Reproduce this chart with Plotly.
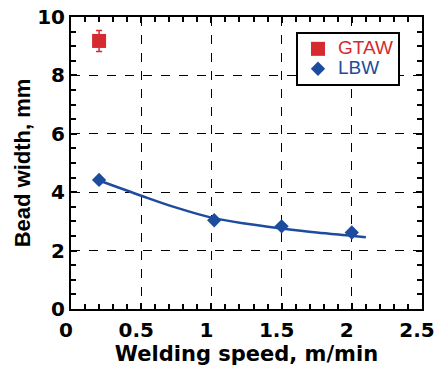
import plotly.graph_objects as go

# Data
gtaw_speed = [0.2]
gtaw_width = [9.18]
gtaw_err = [0.36]

lbw_speed = [0.2, 1.02, 1.5, 2.0]
lbw_width = [4.42, 3.04, 2.83, 2.62]

fit_speed = [0.2, 0.5, 0.75, 1.0, 1.25, 1.5, 1.75, 2.0, 2.1]
fit_width = [4.40, 3.88, 3.47, 3.13, 2.92, 2.76, 2.62, 2.51, 2.46]

x_ticks = [0, 0.5, 1, 1.5, 2, 2.5]
x_ticklabels = ["0", "0.5", "1", "1.5", "2", "2.5"]
y_ticks = [0, 2, 4, 6, 8, 10]

RED = "#d42a30"
BLUE = "#1d4c9e"
FONT = "DejaVu Sans, sans-serif"
LFONT = "Liberation Sans, Arial, sans-serif"

fig = go.Figure()
fig.add_trace(go.Scatter(
    x=fit_speed, y=fit_width, mode="lines", line=dict(color=BLUE, width=2.5, shape="spline"),
    showlegend=False, hoverinfo="skip"))
fig.add_trace(go.Scatter(
    x=gtaw_speed, y=gtaw_width, mode="markers",
    name='<span style="font-size:19px;fill:#d42a30">GTAW</span>',
    marker=dict(symbol="square", size=14, color=RED),
    error_y=dict(type="data", array=gtaw_err, color=RED, thickness=1.5, width=3)))
fig.add_trace(go.Scatter(
    x=lbw_speed, y=lbw_width, mode="markers",
    name='<span style="font-size:19px;fill:#1d4c9e">LBW</span>',
    marker=dict(symbol="diamond", size=11, color=BLUE)))

axis_common = dict(
    showline=True, linecolor="black", linewidth=2, mirror="ticks",
    ticks="inside", ticklen=6, tickwidth=1.5, tickcolor="black",
    showgrid=True, gridcolor="black", gridwidth=1, griddash="dash",
    zeroline=False, automargin=False,
    tickfont=dict(family=FONT, size=20, color="black", weight="bold"),
)

fig.update_xaxes(
    range=[0, 2.5], tickvals=x_ticks, ticktext=x_ticklabels,
    ticklabelshift=-5, ticklabelstandoff=2, ticklabeloverflow="allow",
    minor=dict(dtick=0.1, ticks="inside", ticklen=5, tickcolor="black", tickwidth=1.5, showgrid=False),
    title=dict(text="Welding speed, m/min", font=dict(family=FONT, size=21, color="black", weight="bold"), standoff=0),
    **axis_common)
fig.update_yaxes(
    range=[0, 10], tickvals=y_ticks,
    minor=dict(dtick=0.5, ticks="inside", ticklen=5, tickcolor="black", tickwidth=1.5, showgrid=False),
    title=dict(text="Bead width, mm", font=dict(family=LFONT, size=22, color="black", weight="bold"), standoff=0),
    **axis_common)

fig.update_layout(
    width=438, height=367,
    margin=dict(l=71, r=16, t=17, b=58),
    paper_bgcolor="white", plot_bgcolor="white",
    font=dict(family=FONT),
    legend=dict(x=0.641, y=0.949, xanchor="left", yanchor="top",
                bgcolor="white", bordercolor="black", borderwidth=2,
                font=dict(family=LFONT, size=13), itemwidth=30, tracegroupgap=0),
)

fig.write_html("out.html")
